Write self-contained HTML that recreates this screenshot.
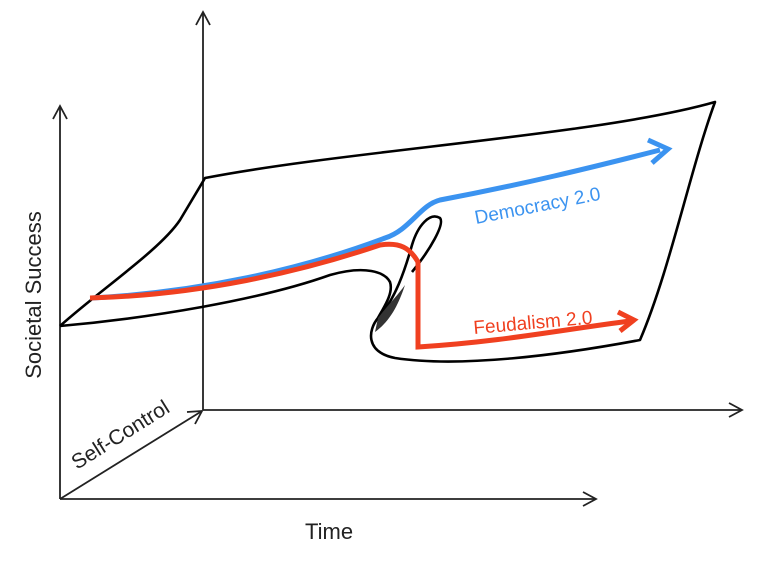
<!DOCTYPE html>
<html><head><style>html,body{margin:0;padding:0;background:#fff}svg{display:block}</style></head>
<body>
<svg width="768" height="562" viewBox="0 0 768 562" xmlns="http://www.w3.org/2000/svg" font-family="Liberation Sans, sans-serif">
<g stroke="#222" stroke-width="1.8" fill="none">
<line x1="60" y1="499" x2="60" y2="106"/><polyline points="53,119 60,106 67,119"/>
<line x1="203" y1="410" x2="203" y2="12"/><polyline points="196,25 203,12 210,25"/>
<line x1="60" y1="499" x2="596" y2="499"/><polyline points="583,492 596,499 583,506"/>
<line x1="203" y1="410" x2="742" y2="410"/><polyline points="729,403 742,410 729,417"/>
<line x1="60" y1="499" x2="202" y2="411"/><polyline points="187,412 202,411 195,424"/>
</g>
<g stroke="#000" stroke-width="2.6" fill="none" stroke-linejoin="round">
<path d="M60,326 C100,290 160,250 180,220 C192,200 198,190 205,178 C350,150 600,135 715,102 C690,170 670,270 640,340 C560,355 460,368 395,358 C365,352 368,330 378,318 C395,300 405,270 412,245 C418,225 430,212 440,218 C445,224 430,250 412,272"/>
<path d="M60,326 C150,318 260,300 330,275 C365,265 385,272 390,282 C394,294 382,310 378,318"/>
</g>
<path d="M378,318 C388,305 398,295 405,285 C400,300 392,320 375,332 Z" fill="#333"/>
<path d="M92,298 C200,292 300,270 385,238 C410,230 420,205 440,200 C520,185 590,168 660,150" stroke="#3b93f0" stroke-width="5" fill="none"/>
<polyline points="648,140 668,149 652,163" stroke="#3b93f0" stroke-width="5" fill="none"/>
<path d="M90,298 C200,295 300,272 380,245 C400,242 410,248 418,262 L418,347 C500,342 560,330 630,321" stroke="#f04020" stroke-width="5" fill="none"/>
<polyline points="618,312 634,320 620,331" stroke="#f04020" stroke-width="5" fill="none"/>
<text x="476" y="224" fill="#3b93f0" font-size="19" transform="rotate(-11 476 224)">Democracy 2.0</text>
<text x="474" y="334" fill="#f04020" font-size="19" transform="rotate(-5 474 334)">Feudalism 2.0</text>
<text x="41" y="295" fill="#222" font-size="22" text-anchor="middle" transform="rotate(-90 41 295)">Societal Success</text>
<text x="77" y="470" fill="#222" font-size="21" transform="rotate(-32 77 470)">Self-Control</text>
<text x="305" y="539" fill="#222" font-size="22">Time</text>
</svg>
</body></html>
